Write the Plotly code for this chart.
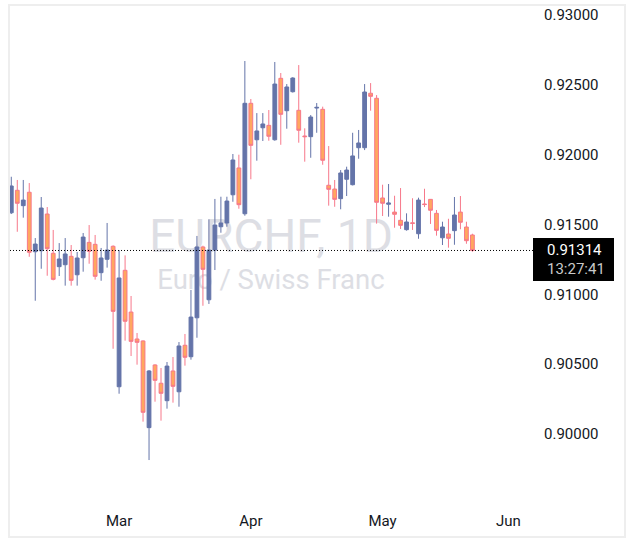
import plotly.graph_objects as go

# ---------------- data (EURCHF, daily) ----------------
dates = [
    "2026-02-04", "2026-02-05", "2026-02-06",
    "2026-02-09", "2026-02-10", "2026-02-11", "2026-02-12", "2026-02-13",
    "2026-02-16", "2026-02-17", "2026-02-18", "2026-02-19", "2026-02-20",
    "2026-02-23", "2026-02-24", "2026-02-25", "2026-02-26", "2026-02-27",
    "2026-03-02", "2026-03-03", "2026-03-04", "2026-03-05", "2026-03-06",
    "2026-03-09", "2026-03-10", "2026-03-11", "2026-03-12", "2026-03-13",
    "2026-03-16", "2026-03-17", "2026-03-18", "2026-03-19", "2026-03-20",
    "2026-03-23", "2026-03-24", "2026-03-25", "2026-03-26", "2026-03-27",
    "2026-03-30", "2026-03-31", "2026-04-01", "2026-04-02", "2026-04-03",
    "2026-04-06", "2026-04-07", "2026-04-08", "2026-04-09", "2026-04-10",
    "2026-04-13", "2026-04-14", "2026-04-15", "2026-04-16", "2026-04-17",
    "2026-04-20", "2026-04-21", "2026-04-22", "2026-04-23", "2026-04-24",
    "2026-04-27", "2026-04-28", "2026-04-29", "2026-04-30", "2026-05-01",
    "2026-05-04", "2026-05-05", "2026-05-06", "2026-05-07", "2026-05-08",
    "2026-05-11", "2026-05-12", "2026-05-13", "2026-05-14", "2026-05-15",
    "2026-05-18", "2026-05-19", "2026-05-20", "2026-05-21", "2026-05-22",
]
opens = [
    0.91584, 0.91745, 0.91635, 0.91731, 0.91305, 0.91312, 0.91575, 0.91294,
    0.91198, 0.91212, 0.91272, 0.91140, 0.91262, 0.91372, 0.91358, 0.91155,
    0.91251, 0.91344, 0.90338, 0.91172, 0.90873, 0.90680, 0.90666, 0.90045,
    0.90494, 0.90363, 0.90238, 0.90451, 0.90302, 0.90635, 0.90553, 0.90832,
    0.91339, 0.90961, 0.91317, 0.91484, 0.91511, 0.91713, 0.91905, 0.91577,
    0.92368, 0.92107, 0.92193, 0.92210, 0.92107, 0.92547, 0.92315, 0.92451,
    0.92318, 0.92134, 0.92129, 0.92334, 0.92325, 0.91781, 0.91754, 0.91685,
    0.91824, 0.91785, 0.92050, 0.92050, 0.92440, 0.92404, 0.91690, 0.91645,
    0.91589, 0.91530, 0.91463, 0.91512, 0.91434, 0.91647, 0.91680, 0.91580,
    0.91405, 0.91432, 0.91456, 0.91589, 0.91482, 0.91425,
]
highs = [
    0.91842, 0.91819, 0.91819, 0.91797, 0.91403, 0.91697, 0.91625, 0.91461,
    0.91367, 0.91403, 0.91353, 0.91303, 0.91439, 0.91496, 0.91425, 0.91332,
    0.91511, 0.91351, 0.91317, 0.91279, 0.90988, 0.90723, 0.90670, 0.90458,
    0.90499, 0.90472, 0.90515, 0.90551, 0.90658, 0.90716, 0.91031, 0.91418,
    0.91348, 0.91537, 0.91683, 0.91699, 0.91699, 0.92005, 0.92000, 0.92671,
    0.92399, 0.92298, 0.92298, 0.92320, 0.92664, 0.92585, 0.92506, 0.92555,
    0.92642, 0.92189, 0.92284, 0.92370, 0.92344, 0.92062, 0.91819, 0.91890,
    0.91914, 0.92157, 0.92177, 0.92506, 0.92513, 0.92427, 0.91785, 0.91790,
    0.91706, 0.91761, 0.91580, 0.91688, 0.91692, 0.91756, 0.91682, 0.91604,
    0.91520, 0.91541, 0.91697, 0.91704, 0.91520, 0.91434,
]
lows = [
    0.91575, 0.91448, 0.91549, 0.91269, 0.90954, 0.91183, 0.91133, 0.91100,
    0.91131, 0.91062, 0.91062, 0.91062, 0.91162, 0.91219, 0.91105, 0.91097,
    0.91191, 0.90610, 0.90288, 0.90668, 0.90558, 0.90496, 0.90088, 0.89813,
    0.90231, 0.90095, 0.90181, 0.90224, 0.90195, 0.90489, 0.90532, 0.90689,
    0.90918, 0.90931, 0.91174, 0.91441, 0.91484, 0.91663, 0.91613, 0.91563,
    0.91824, 0.91957, 0.92098, 0.92100, 0.92100, 0.92071, 0.92186, 0.92445,
    0.92086, 0.91950, 0.91978, 0.92157, 0.91928, 0.91635, 0.91627, 0.91609,
    0.91704, 0.91780, 0.91971, 0.92033, 0.92315, 0.91506, 0.91561, 0.91556,
    0.91477, 0.91468, 0.91456, 0.91461, 0.91398, 0.91625, 0.91504, 0.91420,
    0.91353, 0.91334, 0.91355, 0.91466, 0.91362, 0.91305,
]
closes = [
    0.91776, 0.91652, 0.91675, 0.91301, 0.91360, 0.91618, 0.91327, 0.91107,
    0.91253, 0.91289, 0.91100, 0.91260, 0.91410, 0.91308, 0.91129, 0.91260,
    0.91317, 0.90878, 0.91117, 0.90807, 0.90663, 0.90656, 0.90155, 0.90451,
    0.90384, 0.90291, 0.90486, 0.90341, 0.90630, 0.90549, 0.90837, 0.91339,
    0.91179, 0.91317, 0.91496, 0.91511, 0.91668, 0.91962, 0.91642, 0.92368,
    0.92067, 0.92170, 0.92220, 0.92132, 0.92506, 0.92289, 0.92485, 0.92549,
    0.92175, 0.92129, 0.92270, 0.92339, 0.91960, 0.91752, 0.91680, 0.91869,
    0.91890, 0.91991, 0.92084, 0.92449, 0.92418, 0.91659, 0.91652, 0.91654,
    0.91573, 0.91494, 0.91518, 0.91508, 0.91675, 0.91643, 0.91602, 0.91458,
    0.91482, 0.91401, 0.91568, 0.91516, 0.91384, 0.91314,
]

month_ticks = ["2026-03-02", "2026-04-01", "2026-05-01", "2026-06-01"]
month_labels = ["Mar", "Apr", "May", "Jun"]
price_ticks = [0.900, 0.905, 0.910, 0.915, 0.920, 0.925, 0.930]
price_labels = ["0.90000", "0.90500", "0.91000", "0.91500", "0.92000", "0.92500", "0.93000"]
last_price = 0.91314
last_price_label = "0.91314"
countdown = "13:27:41"
title_text = "EURCHF, 1D"
subtitle_text = "Euro / Swiss Franc"

# ---------------- styling / layout ----------------
UP = "#6474a9"
DOWN_FILL = "#ffa75f"
DOWN_LINE = "#f7788a"
TXT = "#131722"
FONT = "Roboto"

W, H = 629, 560
L, R, T, B = 10, 532, 6, 505


def px_x(px):
    return (px - L) / (R - L)


def px_y(py):
    return (B - py) / (B - T)


fig = go.Figure()
fig.add_trace(go.Candlestick(
    x=dates, open=opens, high=highs, low=lows, close=closes,
    increasing=dict(fillcolor=UP, line=dict(color=UP, width=1)),
    decreasing=dict(fillcolor=DOWN_FILL, line=dict(color=DOWN_LINE, width=1)),
    whiskerwidth=0,
    hoverinfo="skip",
    showlegend=False,
))

shapes = [
    # outer frame
    dict(type="rect", xref="paper", yref="paper",
         x0=px_x(9), x1=px_x(625), y0=px_y(537), y1=px_y(5),
         line=dict(color="#eeeeee", width=2), fillcolor="rgba(0,0,0,0)", layer="below"),
    # watermark lines (drawn below the candles)
    dict(type="rect", xref="paper", yref="paper",
         x0=0, x1=1, y0=px_y(250), y1=px_y(215),
         line=dict(width=0), fillcolor="rgba(0,0,0,0)", layer="below",
         label=dict(text=title_text, textposition="middle center",
                    font=dict(family=FONT, size=46, color="#dddee4"))),
    dict(type="rect", xref="paper", yref="paper",
         x0=0, x1=1, y0=px_y(288), y1=px_y(268),
         line=dict(width=0), fillcolor="rgba(0,0,0,0)", layer="below",
         label=dict(text=subtitle_text, textposition="middle center",
                    font=dict(family=FONT, size=27.5, color="#dddee4"))),
    # last price dotted line
    dict(type="line", xref="paper", yref="y",
         x0=0, x1=px_x(533), y0=last_price, y1=last_price,
         line=dict(color="#000000", width=1, dash="1px,2px"), layer="above"),
    # last price box
    dict(type="rect", xref="paper", yref="paper",
         x0=px_x(533), x1=px_x(614), y0=px_y(281), y1=px_y(238),
         line=dict(width=0), fillcolor="#000000", layer="above"),
]

annotations = [
    dict(xref="paper", yref="y", x=px_x(545), y=last_price, xanchor="left", yanchor="middle",
         text=last_price_label, showarrow=False,
         font=dict(family=FONT, size=15, color="#ffffff")),
    dict(xref="paper", yref="paper", x=px_x(545), y=px_y(269), xanchor="left", yanchor="middle",
         text=countdown, showarrow=False,
         font=dict(family=FONT, size=15, color="#c9c9c9")),
]

fig.update_layout(
    width=W, height=H,
    margin=dict(l=L, r=W - R, t=T, b=H - B, pad=0),
    paper_bgcolor="#ffffff", plot_bgcolor="#ffffff",
    showlegend=False,
    boxgap=0.1, boxgroupgap=0.3,
    shapes=shapes,
    annotations=annotations,
    font=dict(family=FONT, size=15, color=TXT),
    xaxis=dict(
        type="date",
        range=["2026-02-03 18:48", "2026-06-04 22:48"],
        rangebreaks=[dict(bounds=["sat", "mon"])],
        rangeslider=dict(visible=False),
        tickmode="array", tickvals=month_ticks, ticktext=month_labels,
        showgrid=False, zeroline=False, showline=False, ticks="", ticklen=0,
        ticklabelstandoff=5,
        tickfont=dict(family=FONT, size=15, color=TXT),
        fixedrange=True,
    ),
    yaxis=dict(
        side="right",
        range=[0.89491, 0.93065],
        tickmode="array", tickvals=price_ticks, ticktext=price_labels,
        showgrid=False, zeroline=False, showline=False, ticks="", ticklen=0,
        ticklabelstandoff=11,
        tickfont=dict(family=FONT, size=15, color=TXT),
        fixedrange=True,
    ),
)

fig.write_html("out.html", config={"displayModeBar": False},
               post_script="document.body.style.margin='0';")
